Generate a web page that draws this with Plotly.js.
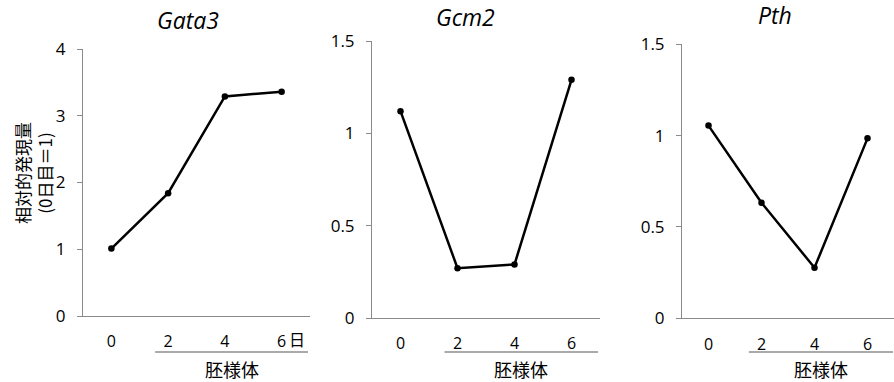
<!DOCTYPE html>
<html><head><meta charset="utf-8">
<script src="https://cdn.plot.ly/plotly-3.0.1.min.js"></script>
<style>html,body{margin:0;padding:0;background:#fff}#c{width:894px;height:382px}</style>
</head><body><div id="c"></div>
<script>
const days = ['0','2','4','6'];
const dayLabels = ['0','2','4','6'];
const gata3 = [1.01, 1.84, 3.29, 3.36];
const gcm2 = [1.12, 0.27, 0.29, 1.29];
const pth = [1.055, 0.633, 0.277, 0.985];
const titles = ['Gata3','Gcm2','Pth'];
const yMax = [4, 1.5, 1.5];
const yDtick = [1, 0.5, 0.5];
const groupLabel = '胚様体';
const dayUnit = '日';
const yTitle = '相対的発現量<br>(0日目＝1)';

const W = 894, H = 382;
const px = v => v / W;
const py = v => (H - v) / H;
const font = 'Open Sans, Noto Sans CJK JP, sans-serif';
const jp = 'Noto Sans CJK JP, sans-serif';

const panels = [
  {x0: 83, x1: 310, y0: 316, y1: 49, tx: 188, ty: 20},
  {x0: 372, x1: 600, y0: 318, y1: 41, tx: 465, ty: 17},
  {x0: 682, x1: 895, y0: 318.3, y1: 44.3, tx: 775, ty: 15}
];
const series = [gata3, gcm2, pth];

const data = series.map((s, i) => ({
  x: days, y: s, type: 'scatter', mode: 'lines+markers',
  xaxis: i === 0 ? 'x' : 'x' + (i + 1), yaxis: i === 0 ? 'y' : 'y' + (i + 1),
  line: {color: '#000', width: 2.5}, marker: {color: '#000', size: 6.5},
  showlegend: false, hoverinfo: 'skip', cliponaxis: false
}));

const layout = {
  width: W, height: H, margin: {l: 0, r: 0, t: 0, b: 0},
  paper_bgcolor: '#fff', plot_bgcolor: '#fff', showlegend: false,
  font: {family: font, size: 16, color: '#000'},
  shapes: [], annotations: []
};

panels.forEach((p, i) => {
  const sfx = i === 0 ? '' : String(i + 1);
  layout['xaxis' + sfx] = {
    domain: [px(p.x0), Math.min(1, px(p.x1))], anchor: 'y' + sfx,
    type: 'category', categoryorder: 'array', categoryarray: days,
    range: [-0.5, 3.5], tickvals: days, ticktext: dayLabels,
    showline: true, linecolor: '#8a8a8a', linewidth: 1,
    ticks: 'outside', ticklen: 11, tickcolor: 'rgba(0,0,0,0)',
    showgrid: false, zeroline: false, fixedrange: true,
    tickfont: {family: font, size: 16, color: '#000'}
  };
  layout['yaxis' + sfx] = {
    domain: [py(p.y0), py(p.y1)], anchor: 'x' + sfx,
    range: [0, yMax[i]], dtick: yDtick[i], tick0: 0,
    showline: true, linecolor: '#8a8a8a', linewidth: 1,
    ticks: 'outside', ticklen: 5, tickcolor: '#8a8a8a', tickwidth: 1,
    ticklabelstandoff: 8,
    showgrid: false, zeroline: false, fixedrange: true,
    tickfont: {family: font, size: 17, color: '#000'}
  };
  layout.annotations.push({
    text: '<i>' + titles[i] + '</i>', xref: 'paper', yref: 'paper',
    x: px(p.tx), y: py(p.ty), xanchor: 'center', yanchor: 'middle',
    showarrow: false, font: {family: font, size: 23, color: '#000'}
  });
  const unit = (p.x1 - p.x0) / 4;
  const lx0 = p.x0 + unit * 1.5 - 13;
  const lx1 = Math.min(p.x0 + unit * 4 - 2, W);
  layout.shapes.push({
    type: 'line', xref: 'paper', yref: 'paper',
    x0: px(lx0), x1: px(lx1), y0: py(352), y1: py(352),
    line: {color: '#555', width: 1}
  });
  layout.annotations.push({
    text: groupLabel, xref: 'paper', yref: 'paper',
    x: px((lx0 + lx1) / 2), y: py(369), xanchor: 'center', yanchor: 'middle',
    showarrow: false, font: {family: jp, size: 18, color: '#000'}
  });
});

layout.annotations.push({
  text: dayUnit, xref: 'paper', yref: 'paper', x: px(287), y: py(339),
  xanchor: 'left', yanchor: 'middle', showarrow: false,
  font: {family: jp, size: 16, color: '#000'}
});
layout.annotations.push({
  text: yTitle, xref: 'paper', yref: 'paper', x: px(33), y: py(173),
  xanchor: 'center', yanchor: 'middle', textangle: -90, showarrow: false,
  font: {family: jp, size: 17, color: '#000'}
});

Plotly.newPlot('c', data, layout, {displayModeBar: false, staticPlot: true});
</script></body></html>
